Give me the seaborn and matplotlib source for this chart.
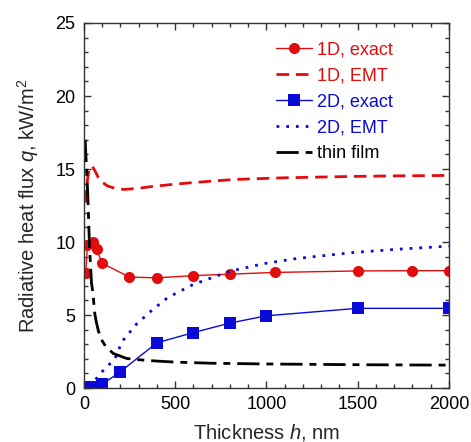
import numpy as np
import pandas as pd
import matplotlib
matplotlib.use("Agg")
import matplotlib.pyplot as plt
import seaborn as sns
from matplotlib.ticker import MultipleLocator

# data
h_1d_exact = [10, 20, 50, 70, 100, 250, 400, 600, 800, 1050, 1500, 1800, 2000]
q_1d_exact = [7.85, 9.8, 10.0, 9.5, 8.55, 7.6, 7.55, 7.7, 7.8, 7.92, 8.02, 8.04, 8.04]

h_1d_emt = [10, 20, 30, 45, 60, 80, 100, 130, 170, 220, 300, 365, 450, 550, 700, 820, 1000, 1100, 1300, 1460, 1700, 2000]
q_1d_emt = [12.7, 14.3, 15.05, 15.2, 14.9, 14.4, 14.1, 13.84, 13.68, 13.6, 13.68, 13.79, 13.9, 14.02, 14.17, 14.28, 14.36, 14.4, 14.45, 14.49, 14.53, 14.56]

h_2d_exact = [40, 100, 200, 400, 600, 800, 1000, 1500, 2000]
q_2d_exact = [0.05, 0.25, 1.12, 3.1, 3.8, 4.45, 4.95, 5.46, 5.46]

h_2d_emt = [40, 55, 90, 130, 170, 210, 290, 375, 460, 600, 800, 990, 1165, 1475, 1710, 2000]
q_2d_emt = [0.0, 0.43, 1.0, 1.5, 2.0, 3.2, 4.4, 5.35, 6.2, 7.1, 8.0, 8.53, 8.87, 9.28, 9.5, 9.72]

h_film = [7, 15, 22, 31, 42, 49, 60, 67, 80, 97, 120, 161, 234, 300, 398, 500, 700, 1000, 1500, 2000]
q_film = [17.0, 15.0, 13.1, 9.7, 7.2, 6.6, 5.1, 4.6, 3.9, 3.3, 2.85, 2.37, 2.03, 1.94, 1.85, 1.78, 1.7, 1.65, 1.6, 1.57]

red = "#e30c0c"
blue = "#0a0ad8"

sns.set_style("ticks")
plt.rcParams["font.family"] = ["Liberation Sans", "DejaVu Sans"]
plt.rcParams["mathtext.fontset"] = "custom"
plt.rcParams["mathtext.rm"] = "Liberation Sans"
plt.rcParams["mathtext.it"] = "Liberation Sans:italic"

fig = plt.figure(figsize=(4.71, 4.42), dpi=100)
ax = fig.add_axes([0.178, 0.122, 0.775, 0.826])

sns.lineplot(x=h_1d_exact, y=q_1d_exact, ax=ax, color=red, linewidth=1, marker="o",
             markersize=8, markeredgewidth=0, label="1D, exact")
sns.lineplot(x=h_1d_emt, y=q_1d_emt, ax=ax, color=red, linewidth=2,
             linestyle=(0, (4.5, 2.5)), label="1D, EMT")
sns.lineplot(x=h_2d_exact, y=q_2d_exact, ax=ax, color=blue, linewidth=1, marker="s",
             markersize=8, markeredgewidth=0, label="2D, exact")
sns.lineplot(x=h_2d_emt, y=q_2d_emt, ax=ax, color=blue, linewidth=2,
             linestyle=(0, (1, 2.5)), label="2D, EMT")
sns.lineplot(x=h_film, y=q_film, ax=ax, color="black", linewidth=2,
             linestyle=(0, (8, 2.5, 2.5, 2.5)), label="thin film")

ax.set_xlim(0, 2000)
ax.set_ylim(0, 25)
ax.xaxis.set_major_locator(MultipleLocator(500))
ax.xaxis.set_minor_locator(MultipleLocator(100))
ax.yaxis.set_major_locator(MultipleLocator(5))
ax.yaxis.set_minor_locator(MultipleLocator(1))
ax.tick_params(which="both", direction="in", top=True, right=True, labelsize=13,
               color="#333333", labelcolor="black", pad=6)
ax.tick_params(which="major", length=5, width=1)
ax.tick_params(which="minor", length=3, width=1)
for s in ax.spines.values():
    s.set_linewidth(1)
    s.set_color("#333333")

ax.set_xlabel("Thickness $h$, nm", fontsize=14.5, labelpad=6)
ax.set_ylabel("Radiative heat flux $q$, kW/m$^2$", fontsize=14.5, labelpad=10)

leg = ax.legend(loc="upper right", bbox_to_anchor=(0.89, 0.995), frameon=False, fontsize=13,
                labelcolor="linecolor", handlelength=2.0, handletextpad=0.25, labelspacing=0.5)

fig.savefig("out.png", dpi=100)
